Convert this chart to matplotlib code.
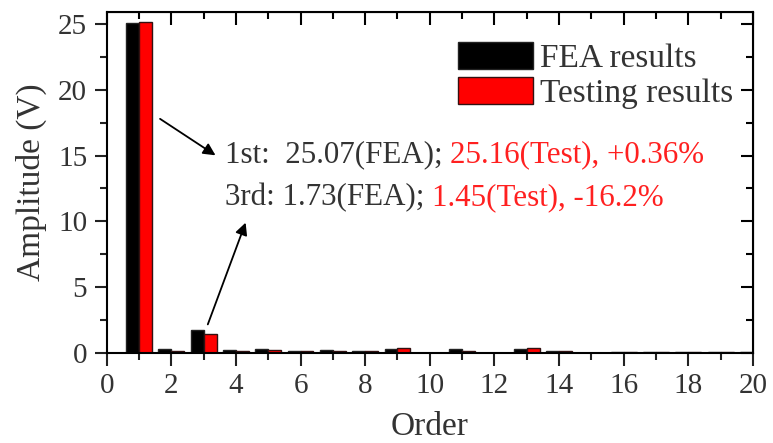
import numpy as np
import matplotlib.pyplot as plt
from matplotlib.ticker import MultipleLocator

plt.rcParams['font.family'] = ['Liberation Serif', 'DejaVu Serif']

# harmonic order and amplitudes (V)
orders = np.arange(1, 21)
fea = [25.07, 0.28, 1.73, 0.23, 0.28, 0.15, 0.20, 0.15, 0.30, 0.03,
       0.28, 0.03, 0.28, 0.15, 0.03, 0.10, 0.08, 0.08, 0.08, 0.08]
test = [25.16, 0.18, 1.45, 0.18, 0.25, 0.15, 0.18, 0.13, 0.35, 0.03,
        0.18, 0.03, 0.35, 0.12, 0.03, 0.10, 0.08, 0.08, 0.08, 0.08]

fig = plt.figure(figsize=(7.73, 4.43), dpi=100)
ax = fig.add_axes([0.138, 0.203, 0.836, 0.770])

w = 0.4
ax.bar(orders - w / 2, fea, width=w, color='black', edgecolor='#222222',
       linewidth=1, label='FEA results')
ax.bar(orders + w / 2, test, width=w, color='red', edgecolor='#331111',
       linewidth=1, label='Testing results')

ax.set_xlim(0, 20)
ax.set_ylim(0, 25.9)
ax.xaxis.set_major_locator(MultipleLocator(2))
ax.xaxis.set_minor_locator(MultipleLocator(1))
ax.yaxis.set_major_locator(MultipleLocator(5))
ax.yaxis.set_minor_locator(MultipleLocator(2.5))
ax.tick_params(which='both', direction='out', width=1.5, labelsize=21,
               colors='#222222', labelcolor='#333333')
ax.tick_params(which='major', length=9)
ax.tick_params(which='minor', length=5)
ax.tick_params(axis='x', which='major', pad=5)
ax.tick_params(axis='y', which='major', pad=5)
for s in ax.spines.values():
    s.set_linewidth(1.5)

# inward ticks on top and right
sec_x = ax.secondary_xaxis('top')
sec_x.xaxis.set_major_locator(MultipleLocator(2))
sec_x.xaxis.set_minor_locator(MultipleLocator(1))
sec_x.tick_params(which='both', direction='in', width=1.5, labeltop=False)
sec_x.tick_params(which='major', length=9)
sec_x.tick_params(which='minor', length=5)
sec_y = ax.secondary_yaxis('right')
sec_y.yaxis.set_major_locator(MultipleLocator(5))
sec_y.yaxis.set_minor_locator(MultipleLocator(2.5))
sec_y.tick_params(which='both', direction='in', width=1.5, labelright=False)
sec_y.tick_params(which='major', length=9)
sec_y.tick_params(which='minor', length=5)

ax.set_xlabel('Order', fontsize=24, color='#333333', labelpad=9)
ax.set_ylabel('Amplitude (V)', fontsize=24, color='#333333', labelpad=8)

ax.legend(loc='upper right', bbox_to_anchor=(1.0, 0.97), frameon=False,
          fontsize=24, handlelength=2.25, handleheight=0.85, labelspacing=0.1,
          handletextpad=0.2, borderaxespad=0.2, labelcolor='#333333')

# annotations
ax.annotate('', xy=(3.44, 14.9), xytext=(1.58, 17.9),
            arrowprops=dict(arrowstyle='-|>', color='black', lw=1.3,
                            mutation_scale=18))
ax.annotate('', xy=(4.33, 10.1), xytext=(3.1, 1.98),
            arrowprops=dict(arrowstyle='-|>', color='black', lw=1.3,
                            mutation_scale=18))

t1 = ax.text(3.65, 15.06, '1st:  25.07(FEA); ', fontsize=22.3, color='#333333',
             va='center', ha='left')
ax.annotate('25.16(Test), +0.36%', xy=(1, 0), xycoords=t1, fontsize=22.3,
            color='#ff2020', va='bottom', ha='left')
t2 = ax.text(3.65, 11.8, '3rd: 1.73(FEA); ', fontsize=22.3, color='#333333',
             va='center', ha='left')
ax.annotate('1.45(Test), -16.2%', xy=(1, 0), xycoords=t2, fontsize=22.3,
            color='#ff2020', va='bottom', ha='left')

fig.savefig('out.png', dpi=100)
